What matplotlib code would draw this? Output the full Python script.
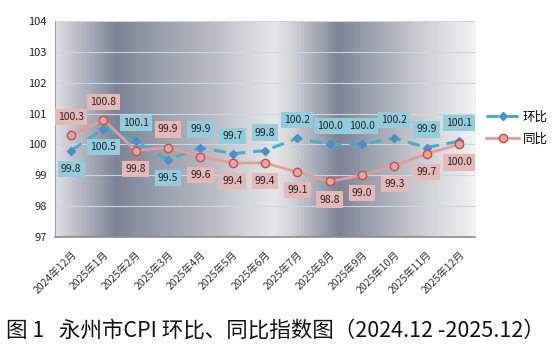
import matplotlib.pyplot as plt
import numpy as np
from matplotlib.colors import LinearSegmentedColormap

plt.rcParams['font.family'] = ['Noto Sans CJK SC', 'DejaVu Sans']

# data
months = ['2024年12月', '2025年1月', '2025年2月', '2025年3月', '2025年4月', '2025年5月',
          '2025年6月', '2025年7月', '2025年8月', '2025年9月', '2025年10月', '2025年11月',
          '2025年12月']
huanbi = [99.8, 100.5, 100.1, 99.5, 99.9, 99.7, 99.8, 100.2, 100.0, 100.0, 100.2, 99.9, 100.1]
tongbi = [100.3, 100.8, 99.8, 99.9, 99.6, 99.4, 99.4, 99.1, 98.8, 99.0, 99.3, 99.7, 100.0]
# label above (1) or below (-1) the point
hb_pos = [-1, -1, 1, -1, 1, 1, 1, 1, 1, 1, 1, 1, 1]
tb_pos = [1, 1, -1, 1, -1, -1, -1, -1, -1, -1, -1, -1, -1]

blue = '#4bacc6'

fig = plt.figure(figsize=(5.52, 3.62), dpi=100)
ax = fig.add_axes([0.0996, 0.3453, 0.761, 0.5967])

x = np.arange(len(months))

# gradient background of the plot area
cmap = LinearSegmentedColormap.from_list('bg', [
    (0.0, '#dedee2'), (0.143, '#7d8497'), (0.35, '#b4b7c0'), (0.52, '#e6e6e7'),
    (0.56, '#d4d5d9'), (0.675, '#7d8497'), (0.85, '#c4c6cc'), (1.0, '#f3f3f3')])
grad = np.linspace(0, 1, 400).reshape(1, -1)
ax.imshow(grad, cmap=cmap, aspect='auto', extent=[-0.5, 12.5, 97, 104], zorder=0)

for yv in range(98, 105):
    ax.axhline(yv, color='#c8d6ea', lw=0.8, zorder=1)

ax.plot(x, huanbi, color=blue, lw=2.2, dashes=(4, 2.5), marker='D', ms=4.5,
        mfc='#4a90c8', mec='#4a90c8', zorder=3, label='环比')
ax.plot(x, tongbi, color='#e39c9a', lw=2, marker='o', ms=6,
        mfc='#e8a3a1', mec='#c0504d', mew=1, zorder=3, label='同比')

for i in range(len(months)):
    ax.annotate(f'{huanbi[i]:.1f}', (x[i], huanbi[i]), xytext=(0, 13 * hb_pos[i]),
                textcoords='offset points', ha='center', va='center', fontsize=7.5,
                color='#222222', zorder=5,
                bbox=dict(boxstyle='square,pad=0.3', fc='#93cddd', ec='none'))
    ax.annotate(f'{tongbi[i]:.1f}', (x[i], tongbi[i]), xytext=(0, 13 * tb_pos[i]),
                textcoords='offset points', ha='center', va='center', fontsize=7.5,
                color='#222222', zorder=5,
                bbox=dict(boxstyle='square,pad=0.3', fc='#e6b9b8', ec='none'))

ax.set_xlim(-0.5, 12.5)
ax.set_ylim(97, 104)
ax.set_yticks(range(97, 105))
ax.tick_params(axis='y', length=0, labelsize=8, pad=6, labelcolor='#222222')
ax.set_xticks(x)
ax.set_xticklabels(months, rotation=45, ha='right', rotation_mode='anchor', fontsize=7.5,
                   color='#333333')
ax.tick_params(axis='x', length=0, pad=9)

for s in ['top', 'right']:
    ax.spines[s].set_visible(False)
ax.spines['left'].set_color('#a0a0a0')
ax.spines['bottom'].set_color('#8c8c8c')
ax.spines['bottom'].set_linewidth(1.2)

ax.legend(loc='center left', bbox_to_anchor=(1.0, 0.505), frameon=False, fontsize=9,
          handlelength=2.6, labelspacing=0.7, handletextpad=0.3)

fig.text(0.01, 0.088, '图 1   永州市CPI 环比、同比指数图（2024.12 -2025.12）', fontsize=15.5,
         color='#111111', ha='left', va='center')

fig.savefig('out.png', dpi=100)
